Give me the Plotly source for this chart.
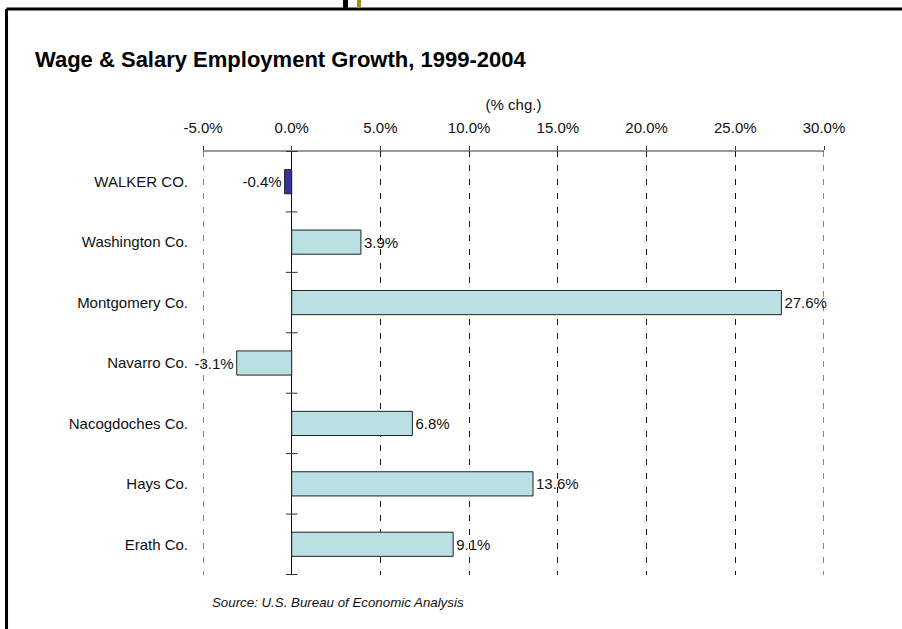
import plotly.graph_objects as go

# Employment growth by county, 1999-2004 (% change)
counties = ["WALKER CO.", "Washington Co.", "Montgomery Co.", "Navarro Co.",
            "Nacogdoches Co.", "Hays Co.", "Erath Co."]
growth = [-0.4, 3.9, 27.6, -3.1, 6.8, 13.6, 9.1]
bar_colors = ["#333399", "#BBE0E3", "#BBE0E3", "#BBE0E3", "#BBE0E3", "#BBE0E3", "#BBE0E3"]
x_ticks = [-5, 0, 5, 10, 15, 20, 25, 30]
x_tick_labels = ["-5.0%", "0.0%", "5.0%", "10.0%", "15.0%", "20.0%", "25.0%", "30.0%"]

FONT = "Liberation Sans, Arial, sans-serif"
TXT = 15
GRID_DASH = "6px,8px"

fig = go.Figure()
fig.add_trace(go.Bar(
    y=counties,
    x=growth,
    orientation="h",
    width=0.4,
    marker=dict(color=bar_colors, line=dict(color="#222222", width=1)),
    text=[f"{v:.1f}%" for v in growth],
    textposition="outside",
    textfont=dict(family=FONT, size=TXT, color="#111111"),
    cliponaxis=False,
    constraintext="none",
    hoverinfo="skip",
))

# small tick marks on the zero line between categories
for i in range(len(counties) + 1):
    fig.add_shape(type="line", xref="x", yref="y",
                  x0=-0.33, x1=0.33, y0=i - 0.5, y1=i - 0.5,
                  line=dict(color="#333333", width=1))

# dashed gridlines at both ends of the value range
for xv in (x_ticks[0], x_ticks[-1]):
    fig.add_shape(type="line", xref="x", yref="paper",
                  x0=xv, x1=xv, y0=1, y1=0,
                  line=dict(color="#111111", width=1, dash=GRID_DASH))

# outer frame and header accents
frame = dict(color="black", width=3)
fig.add_shape(type="line", xref="paper", yref="paper",
              x0=-0.3164, x1=1.3, y0=1.335, y1=1.335, line=frame)
fig.add_shape(type="line", xref="paper", yref="paper",
              x0=-0.3164, x1=-0.3164, y0=1.335, y1=-0.3, line=frame)
fig.add_shape(type="rect", xref="paper", yref="paper",
              x0=0.2255, x1=0.2335, y0=1.337, y1=1.36,
              line=dict(width=0), fillcolor="black")
fig.add_shape(type="rect", xref="paper", yref="paper",
              x0=0.2480, x1=0.2545, y0=1.337, y1=1.36,
              line=dict(width=0), fillcolor="#999911")

fig.add_annotation(
    text="Source: U.S. Bureau of Economic Analysis",
    xref="paper", yref="paper", x=0.011, y=-0.065,
    xanchor="left", yanchor="middle", showarrow=False,
    font=dict(family=FONT, size=13.3, color="#111111", style="italic"),
)

fig.update_layout(
    width=902, height=629,
    margin=dict(l=203, r=78, t=151, b=54),
    paper_bgcolor="white", plot_bgcolor="white",
    showlegend=False,
    font=dict(family=FONT, size=TXT, color="#111111"),
    title=dict(
        text="Wage & Salary Employment Growth, 1999-2004",
        xref="container", yref="container",
        x=0.0388, y=0.905, xanchor="left", yanchor="middle",
        font=dict(family=FONT, size=22, color="#000000", weight="bold"),
    ),
    xaxis=dict(
        side="top",
        range=[-5, 30],
        tickvals=x_ticks, ticktext=x_tick_labels,
        showline=False,
        ticks="outside", ticklen=4, tickcolor="#333333",
        ticklabelstandoff=7,
        showgrid=True, gridcolor="#111111", gridwidth=1, griddash=GRID_DASH,
        zeroline=True, zerolinecolor="#111111", zerolinewidth=1,
        tickfont=dict(family=FONT, size=TXT, color="#111111"),
        title=dict(text="(% chg.)", standoff=4,
                   font=dict(family=FONT, size=TXT, color="#111111")),
        fixedrange=True,
    ),
    yaxis=dict(
        autorange="reversed",
        showline=False, showgrid=False, zeroline=False,
        ticks="", ticklabelstandoff=14,
        tickfont=dict(family=FONT, size=TXT, color="#111111"),
        fixedrange=True,
    ),
)

# axis rule across the top of the plotting area, from -5% to 30%
fig.add_shape(type="line", xref="x", yref="paper",
              x0=x_ticks[0], x1=x_ticks[-1], y0=1, y1=1,
              line=dict(color="#333333", width=1))

fig.write_html("out.html")
